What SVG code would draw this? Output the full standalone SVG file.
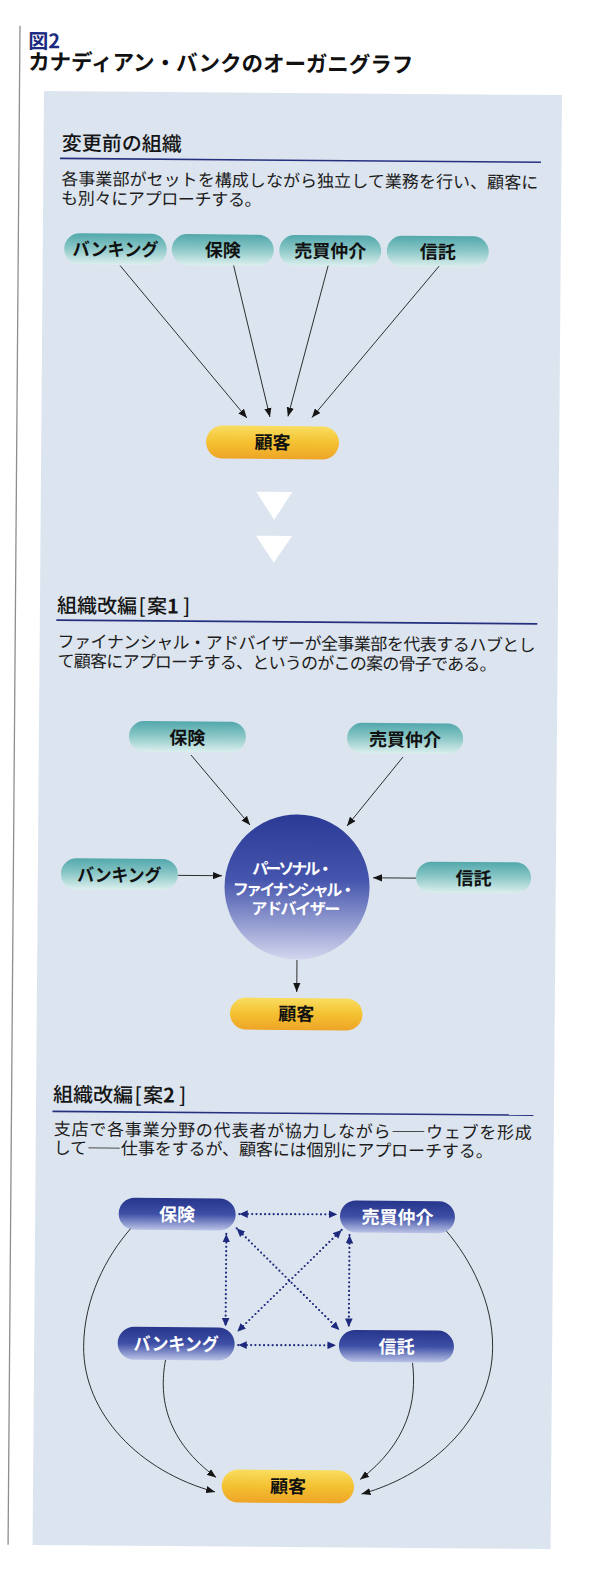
<svg xmlns="http://www.w3.org/2000/svg" width="594" height="1582" viewBox="0 0 594 1582">
<style>
.jp{font-family:"Noto Sans CJK JP","Noto Sans",sans-serif}
.title{font-size:22px;font-weight:bold;fill:#111}
.fig{font-size:20px;font-weight:bold;fill:#1b2a80}
.hd{font-size:20px;font-weight:500;fill:#151515}
.bd{font-size:17px;fill:#1c1c1c}
.nt{font-size:18px;font-weight:bold;fill:#111;text-anchor:middle}
.nw{font-size:18px;font-weight:bold;fill:#fff;text-anchor:middle}
.ct{font-size:16px;font-weight:bold;fill:#fff}
.ul{stroke:#25307f;stroke-width:1.6;fill:none}
.ln{stroke:#1a1a1a;stroke-width:0.9;fill:none}
.dt{stroke:#1e2a7e;stroke-width:2.2;stroke-linecap:round;stroke-dasharray:0 4.3;fill:none}
</style>
<defs>
<linearGradient id="gTeal" x1="0" y1="0" x2="0" y2="1">
<stop offset="0" stop-color="#52a8ac"/><stop offset="0.45" stop-color="#87c5c5"/><stop offset="1" stop-color="#dbefed"/>
</linearGradient>
<linearGradient id="gGold" x1="0" y1="0" x2="0" y2="1">
<stop offset="0" stop-color="#f9dd60"/><stop offset="0.5" stop-color="#f4c131"/><stop offset="1" stop-color="#eea427"/>
</linearGradient>
<linearGradient id="gNavy" x1="0" y1="0" x2="0" y2="1">
<stop offset="0" stop-color="#27358c"/><stop offset="0.5" stop-color="#3e4fa6"/><stop offset="1" stop-color="#bac3e6"/>
</linearGradient>
<linearGradient id="gBall" x1="0" y1="0" x2="0" y2="1">
<stop offset="0" stop-color="#2b3a95"/><stop offset="0.45" stop-color="#4555ad"/><stop offset="1" stop-color="#d3d6ee"/>
</linearGradient>
<marker id="ab" viewBox="0 0 10 8" refX="10" refY="4" markerWidth="9" markerHeight="7.5" markerUnits="userSpaceOnUse" orient="auto"><path d="M0,0L10,4L0,8z" fill="#151515"/></marker>
<marker id="an" viewBox="0 0 10 9" refX="10" refY="4.5" markerWidth="8.5" markerHeight="8" markerUnits="userSpaceOnUse" orient="auto-start-reverse"><path d="M0,0L10,4.5L0,9z" fill="#1e2a7e"/></marker>
</defs>
<rect width="594" height="1582" fill="#ffffff"/>
<g transform="rotate(0.45 297 791)">
<line x1="14" y1="28" x2="14" y2="1547" stroke="#8e8e8e" stroke-width="1.3"/>
<rect x="38.5" y="93" width="518" height="1454" fill="#dce5ef"/>

<g id="heading" class="jp">
<text class="fig" x="22.5" y="50.3">図2</text>
<text class="title" x="22.5" y="71.8" textLength="385" lengthAdjust="spacingAndGlyphs">カナディアン・バンクのオーガニグラフ</text>
</g>

<g id="section1-text" class="jp">
<text class="hd" x="56.8" y="152">変更前の組織</text>
<line class="ul" x1="55" y1="160.3" x2="536" y2="160.3"/>
<text class="bd" x="56.5" y="186.8" textLength="477" lengthAdjust="spacing">各事業部がセットを構成しながら独立して業務を行い、顧客に</text>
<text class="bd" x="56.5" y="206.2" textLength="200.5" lengthAdjust="spacing">も別々にアプローチする。</text>
</g>

<g id="s1-banking"><rect x="60" y="235" width="102.5" height="31" rx="15.5" fill="url(#gTeal)"/><text class="jp nt" x="111.3" y="257.3" textLength="86" lengthAdjust="spacingAndGlyphs">バンキング</text></g>
<g id="s1-hoken"><rect x="167.5" y="235" width="102" height="31" rx="15.5" fill="url(#gTeal)"/><text class="jp nt" x="218.5" y="257.3">保険</text></g>
<g id="s1-baibai"><rect x="275" y="235" width="102" height="31" rx="15.5" fill="url(#gTeal)"/><text class="jp nt" x="326" y="257.3">売買仲介</text></g>
<g id="s1-shintaku"><rect x="382.5" y="235" width="102" height="31" rx="15.5" fill="url(#gTeal)"/><text class="jp nt" x="433.5" y="257.3">信託</text></g>
<g id="s1-kokyaku"><rect x="203.3" y="426.2" width="133" height="33" rx="16.5" fill="url(#gGold)"/><text class="jp nt" x="269.8" y="449.2">顧客</text></g>

<g id="transition">
<polygon points="254,492 290,492 272,520" fill="#ffffff"/>
<polygon points="254,536 290,536 272,563" fill="#ffffff"/>
</g>

<g id="section2-text" class="jp">
<text class="hd" x="55.5" y="614.5">組織改編<tspan x="137">[</tspan><tspan x="145.5">案</tspan><tspan font-weight="bold">1</tspan><tspan x="181.5">]</tspan></text>
<line class="ul" x1="55" y1="622" x2="536" y2="622"/>
<text class="bd" x="56.5" y="649.5" textLength="478" lengthAdjust="spacing">ファイナンシャル・アドバイザーが全事業部を代表するハブとし</text>
<text class="bd" x="56.5" y="669" textLength="439" lengthAdjust="spacing">て顧客にアプローチする、というのがこの案の骨子である。</text>
</g>

<g id="s2-hoken"><rect x="128.5" y="722.3" width="117" height="30.5" rx="15.2" fill="url(#gTeal)"/><text class="jp nt" x="187" y="745.3">保険</text></g>
<g id="s2-baibai"><rect x="346.7" y="722.3" width="116" height="30.5" rx="15.2" fill="url(#gTeal)"/><text class="jp nt" x="404.7" y="745.3">売買仲介</text></g>
<g id="s2-banking"><rect x="61.6" y="860" width="117" height="31" rx="15.5" fill="url(#gTeal)"/><text class="jp nt" x="120" y="883" textLength="84" lengthAdjust="spacingAndGlyphs">バンキング</text></g>
<g id="s2-shintaku"><rect x="416.7" y="860.6" width="115" height="31" rx="15.5" fill="url(#gTeal)"/><text class="jp nt" x="474.2" y="883.6">信託</text></g>
<g id="s2-advisor">
<circle cx="297.8" cy="887" r="72.5" fill="url(#gBall)"/>
<text class="jp ct" x="253" y="874.5" textLength="81" lengthAdjust="spacing">パーソナル・</text>
<text class="jp ct" x="233.5" y="895.5" textLength="123" lengthAdjust="spacing">ファイナンシャル・</text>
<text class="jp ct" x="252.3" y="914.5" textLength="89" lengthAdjust="spacing">アドバイザー</text>
</g>
<g id="s2-kokyaku"><rect x="231.7" y="998" width="132.5" height="32" rx="16" fill="url(#gGold)"/><text class="jp nt" x="298" y="1020.5">顧客</text></g>

<g id="section3-text" class="jp">
<text class="hd" x="55.5" y="1103.5">組織改編<tspan x="137">[</tspan><tspan x="145.5">案</tspan><tspan font-weight="bold">2</tspan><tspan x="181.5">]</tspan></text>
<line class="ul" x1="55" y1="1113.3" x2="536" y2="1113.3"/>
<text class="bd" x="56.5" y="1137" textLength="478" lengthAdjust="spacing">支店で各事業分野の代表者が協力しながら――ウェブを形成</text>
<text class="bd" x="56.5" y="1155.8" textLength="439" lengthAdjust="spacing">して――仕事をするが、顧客には個別にアプローチする。</text>
</g>

<g id="s3-hoken"><rect x="122" y="1199" width="117" height="32" rx="16" fill="url(#gNavy)"/><text class="jp nw" x="180.5" y="1222">保険</text></g>
<g id="s3-baibai"><rect x="343.3" y="1200" width="115" height="32" rx="16" fill="url(#gNavy)"/><text class="jp nw" x="400.8" y="1223">売買仲介</text></g>
<g id="s3-banking"><rect x="122" y="1328" width="117" height="33" rx="16.5" fill="url(#gNavy)"/><text class="jp nw" x="180.5" y="1351.5" textLength="85" lengthAdjust="spacingAndGlyphs">バンキング</text></g>
<g id="s3-shintaku"><rect x="343.3" y="1329.5" width="115" height="32" rx="16" fill="url(#gNavy)"/><text class="jp nw" x="400.8" y="1352.5">信託</text></g>
<g id="s3-kokyaku"><rect x="227.2" y="1470" width="132.3" height="33" rx="16.5" fill="url(#gGold)"/><text class="jp nt" x="293.4" y="1493">顧客</text></g>

<g id="connectors">
<path class="ln" d="M116,267 L244,418.4" marker-end="url(#ab)"/>
<path class="ln" d="M229.5,266 L267,417.2" marker-end="url(#ab)"/>
<path class="ln" d="M324,265.5 L285,416.5" marker-end="url(#ab)"/>
<path class="ln" d="M435,265 L309,417.5" marker-end="url(#ab)"/>

<path class="ln" d="M190.7,755.8 L250.3,825.4" marker-end="url(#ab)"/>
<path class="ln" d="M402.7,756.2 L347.3,825.6" marker-end="url(#ab)"/>
<path class="ln" d="M178.7,876.3 L222.7,876.3" marker-end="url(#ab)"/>
<path class="ln" d="M416.7,877.2 L373.7,877.2" marker-end="url(#ab)"/>
<path class="ln" d="M298.3,960 L298.3,992" marker-end="url(#ab)"/>

<path class="dt" d="M242.6,1214.5 L340.6,1214" marker-start="url(#an)" marker-end="url(#an)"/>
<path class="dt" d="M242.6,1345.5 L340.3,1345" marker-start="url(#an)" marker-end="url(#an)"/>
<path class="dt" d="M229.8,1234.5 L229.8,1327" marker-start="url(#an)" marker-end="url(#an)"/>
<path class="dt" d="M353,1234.6 L353,1326.5" marker-start="url(#an)" marker-end="url(#an)"/>
<path class="dt" d="M240.1,1228.8 L343.5,1329.7" marker-start="url(#an)" marker-end="url(#an)"/>
<path class="dt" d="M345.1,1229.6 L241.5,1332.2" marker-start="url(#an)" marker-end="url(#an)"/>

<path class="ln" d="M134,1230 C110,1258 88,1300 88,1348 C88,1415 145,1473 220.5,1492.5" marker-end="url(#ab)"/>
<path class="ln" d="M450,1230 C474,1258 497,1300 497,1346 C497,1413 442,1472 367,1493.5" marker-end="url(#ab)"/>
<path class="ln" d="M170,1361 C163,1400 172,1442 221.5,1478" marker-end="url(#ab)"/>
<path class="ln" d="M417,1362 C422,1400 413,1442 365.5,1479" marker-end="url(#ab)"/>
</g>
</g>
</svg>
